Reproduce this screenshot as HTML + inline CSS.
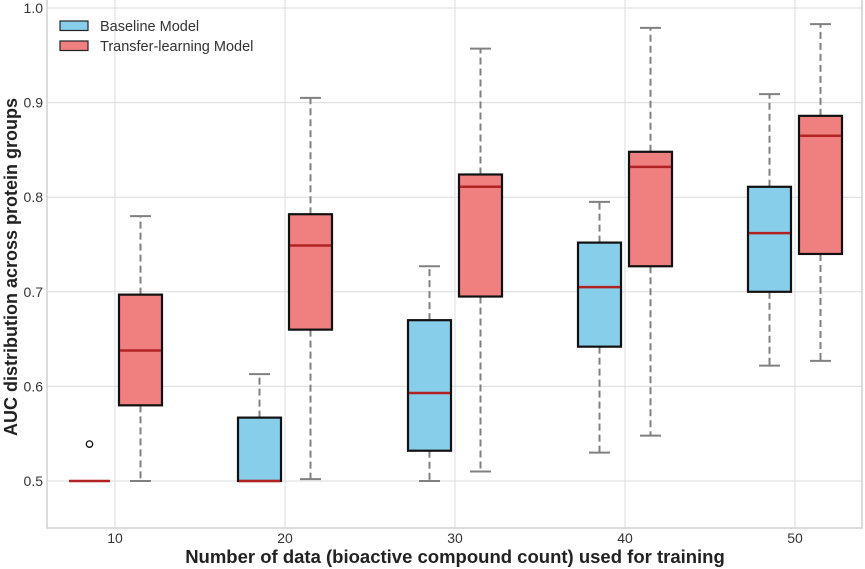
<!DOCTYPE html>
<html><head><meta charset="utf-8"><style>
body{margin:0;background:#fff;}
svg{font-family:"Liberation Sans",sans-serif;display:block;}
</style></head><body>
<svg id="chart" width="865" height="569"></svg>
<script>
const categories=[10,20,30,40,50];
const baselineMin=[0.5,0.5,0.5,0.53,0.622];
const baselineQ1=[0.5,0.5,0.532,0.642,0.700];
const baselineMed=[0.5,0.5,0.593,0.705,0.762];
const baselineQ3=[0.5,0.567,0.670,0.752,0.811];
const baselineMax=[0.5,0.613,0.727,0.795,0.909];
const baselineOutliers=[[0.539],[],[],[],[]];
const transferMin=[0.5,0.502,0.51,0.548,0.627];
const transferQ1=[0.580,0.660,0.695,0.727,0.740];
const transferMed=[0.638,0.749,0.811,0.832,0.865];
const transferQ3=[0.697,0.782,0.824,0.848,0.886];
const transferMax=[0.78,0.905,0.957,0.979,0.983];
const transferOutliers=[[],[],[],[],[]];
const yTicks=[0.5,0.6,0.7,0.8,0.9,1.0];
const yTickLabels=["0.5","0.6","0.7","0.8","0.9","1.0"];

const NS="http://www.w3.org/2000/svg";
const svg=document.getElementById('chart');
const L=47,R=862,T=0,B=528;
const xScale=v=>115+(v-10)*17;
const yScale=v=>481-(v-0.5)*946;
function mk(tag,attrs,parent){const e=document.createElementNS(NS,tag);for(const k in attrs)e.setAttribute(k,attrs[k]);(parent||svg).appendChild(e);return e;}

const grid=mk('g',{});


yTicks.forEach((t,i)=>{
  const y=yScale(t);
  const gl=mk('line',{x1:L,x2:R,y1:y,y2:y,stroke:'#dcdcdc','stroke-width':1},grid);
  
  
  const tx=mk('text',{x:43,y:y+5,'text-anchor':'end','font-size':14,fill:'#333'});
  tx.textContent=yTickLabels[i];
  
  
});
categories.forEach(c=>{
  const x=xScale(c);
  const gl=mk('line',{x1:x,x2:x,y1:T,y2:B,stroke:'#dcdcdc','stroke-width':1},grid);
  
  
  const tx=mk('text',{x:x,y:B+15,'text-anchor':'middle','font-size':14,fill:'#333'});
  tx.textContent=String(c);
  
  
});
const frame=mk('rect',{x:L,y:-2,width:R-L,height:B+2,fill:'none',stroke:'#d0d0d0','stroke-width':1.5});



function drawBox(i,off,fill,mn,q1,md,q3,mx,outs,name){
  const g=mk('g',{});
  
  
  const cx=xScale(categories[i]+off), hw=21.5, cw=10.5;
  const wl={stroke:'#808080','stroke-width':2,'stroke-dasharray':'7,4'};
  mk('line',Object.assign({x1:cx,x2:cx,y1:yScale(q3[i]),y2:yScale(mx[i])},wl),g);
  mk('line',Object.assign({x1:cx,x2:cx,y1:yScale(q1[i]),y2:yScale(mn[i])},wl),g);
  mk('line',{x1:cx-cw,x2:cx+cw,y1:yScale(mx[i]),y2:yScale(mx[i]),stroke:'#808080','stroke-width':2},g);
  mk('line',{x1:cx-cw,x2:cx+cw,y1:yScale(mn[i]),y2:yScale(mn[i]),stroke:'#808080','stroke-width':2},g);
  const h=yScale(q1[i])-yScale(q3[i]);
  if(h>0.5) mk('rect',{x:cx-hw,y:yScale(q3[i]),width:2*hw,height:h,fill:fill,stroke:'#111','stroke-width':2.2},g);
  mk('line',{x1:cx-hw+1,x2:cx+hw-1,y1:yScale(md[i]),y2:yScale(md[i]),stroke:'#b22222','stroke-width':2.5},g);
  outs[i].forEach(o=>{mk('circle',{cx:cx,cy:yScale(o),r:3.2,fill:'none',stroke:'#111','stroke-width':1.3},g);});
}
categories.forEach((c,i)=>{
  drawBox(i,-1.5,'#87ceeb',baselineMin,baselineQ1,baselineMed,baselineQ3,baselineMax,baselineOutliers,'baseline');
  drawBox(i,1.5,'#f08080',transferMin,transferQ1,transferMed,transferQ3,transferMax,transferOutliers,'transfer');
});

const xt=mk('text',{x:455,y:563,'text-anchor':'middle','font-size':18.5,'font-weight':'bold',fill:'#222'});
xt.textContent='Number of data (bioactive compound count) used for training';


const yt=mk('text',{x:0,y:0,'text-anchor':'middle','font-size':18,'font-weight':'bold',fill:'#222',transform:'translate(17,267) rotate(-90)'});
yt.textContent='AUC distribution across protein groups';



const lg=mk('g',{});


[['Baseline Model','#87ceeb',21],['Transfer-learning Model','#f08080',41]].forEach(([t,c,y])=>{
  const e=mk('g',{},lg);
  
  
  mk('rect',{x:60,y:y,width:28,height:9.5,fill:c,stroke:'#222','stroke-width':1.2},e);
  const tx=mk('text',{x:100,y:y+10,'font-size':14.5,fill:'#333'},e);
  tx.textContent=t;
});
</script>
</body></html>
